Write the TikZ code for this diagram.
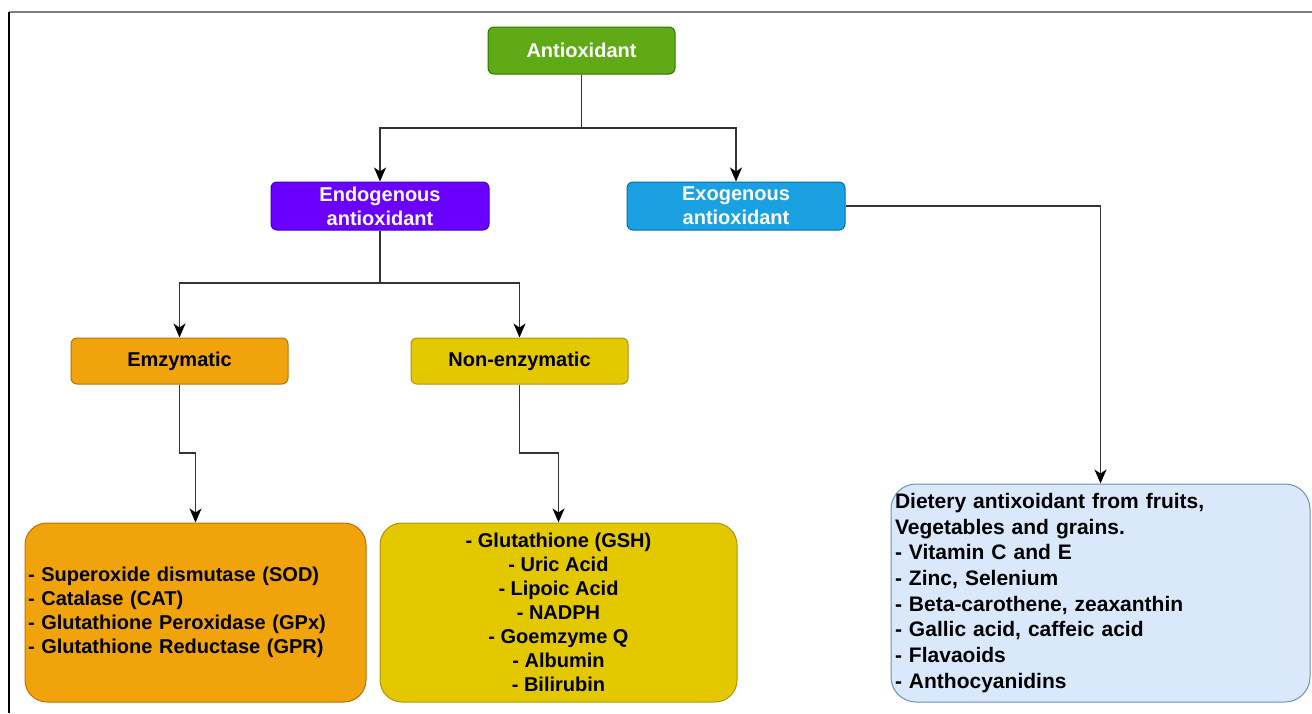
\documentclass[tikz,border=0pt]{standalone}
\usepackage{fontspec}
\setmainfont{Liberation Sans}
\usetikzlibrary{arrows.meta}
\definecolor{gfill}{HTML}{60A917}\definecolor{gdraw}{HTML}{2D7600}
\definecolor{pfill}{HTML}{6A00FF}\definecolor{pdraw}{HTML}{3700CC}
\definecolor{bfill}{HTML}{1BA1E2}\definecolor{bdraw}{HTML}{006EAF}
\definecolor{ofill}{HTML}{F0A30A}\definecolor{odraw}{HTML}{BD7000}
\definecolor{yfill}{HTML}{E3C800}\definecolor{ydraw}{HTML}{B09500}
\definecolor{lfill}{HTML}{DAE8FC}\definecolor{ldraw}{HTML}{6C8EBF}
\definecolor{linec}{HTML}{333333}
\tikzset{
  box/.style={draw, rounded corners=6pt, line width=1pt, inner sep=0pt, align=center,
    font=\bfseries\fontsize{20}{24}\selectfont},
  bigbox/.style={box, rounded corners=22pt},
  conn/.style={draw=linec, line width=1.5pt, -{Stealth[length=14pt,width=12pt,inset=4pt,color=black]}},
}
\begin{document}
\begin{tikzpicture}[x=1pt,y=-1pt]
\useasboundingbox (0,0) rectangle (1312,713);
\draw[gray, line width=2pt] (9,12) -- (1312,12);
\draw[black, line width=1.3pt] (9,12) -- (9,713);

\node[box, fill=gfill, draw=gdraw, text=white, minimum width=187pt, minimum height=47pt] (anti) at (581.5,50.5) {Antioxidant};
\node[box, fill=pfill, draw=pdraw, text=white, minimum width=218pt, minimum height=48pt] (endo) at (380,206) {Endogenous\\antioxidant};
\node[box, fill=bfill, draw=bdraw, text=white, minimum width=218pt, minimum height=48pt] (exo) at (736,206) {Exogenous\\antioxidant};
\node[box, fill=ofill, draw=odraw, minimum width=217pt, minimum height=46pt] (emz) at (179.5,361) {Emzymatic};
\node[box, fill=yfill, draw=ydraw, minimum width=217pt, minimum height=46pt] (nonenz) at (519.5,361) {Non-enzymatic};

\node[bigbox, fill=ofill, draw=odraw, inner xsep=3pt, text width=335pt, align=left, minimum height=179pt] (enzlist) at (195.5,612.5)
  {- Superoxide dismutase (SOD)\\- Catalase (CAT)\\- Glutathione Peroxidase (GPx)\\- Glutathione Reductase (GPR)};
\node[bigbox, fill=yfill, draw=ydraw, minimum width=357pt, minimum height=179pt] (nonlist) at (558.5,612.5)
  {- Glutathione (GSH)\\- Uric Acid\\- Lipoic Acid\\- NADPH\\- Goemzyme Q\\- Albumin\\- Bilirubin};
\node[bigbox, rounded corners=25pt, fill=lfill, draw=ldraw, inner xsep=4pt, text width=411pt, align=left, minimum height=218pt,
  font=\bfseries\fontsize{21}{25.7}\selectfont] (exolist) at (1100.5,593)
  {Dietery antixoidant from fruits,\\Vegetables and grains.\\- Vitamin C and E\\- Zinc, Selenium\\- Beta-carothene, zeaxanthin\\- Gallic acid, caffeic acid\\- Flavaoids\\- Anthocyanidins};

\coordinate (j1) at (581.5,128);
\draw[conn] (anti.south) -- (j1) -| (endo.north);
\draw[conn] (anti.south) -- (j1) -| (exo.north);
\coordinate (j2) at (380,283);
\draw[conn] (endo.south) -- (j2) -| (emz.north);
\draw[conn] (endo.south) -- (j2) -| (nonenz.north);
\coordinate (j3) at (179.5,453);
\draw[conn] (emz.south) -- (j3) -| (enzlist.north);
\coordinate (j4) at (519.5,453);
\draw[conn] (nonenz.south) -- (j4) -| (nonlist.north);
\draw[conn] (exo.east) -| (exolist.north);
\end{tikzpicture}
\end{document}
